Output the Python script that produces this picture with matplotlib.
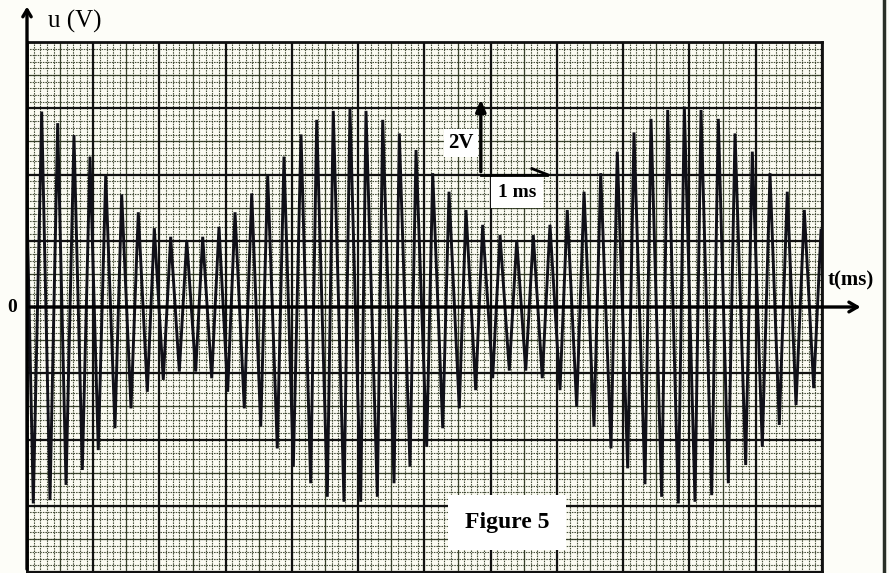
import numpy as np
import matplotlib
matplotlib.use("Agg")
import matplotlib.pyplot as plt

# extremes of the trace: time (ms), voltage (V)
t_ext = [0.000, 0.095, 0.222, 0.347, 0.463, 0.589, 0.709, 0.835, 0.951, 1.076,
         1.188, 1.328, 1.429, 1.570, 1.680, 1.816, 1.922, 2.057, 2.169, 2.299,
         2.411, 2.546, 2.652, 2.788, 2.898, 3.029, 3.140, 3.280, 3.392, 3.528,
         3.633, 3.778, 3.879, 4.020, 4.136, 4.282, 4.373, 4.533, 4.623, 4.785,
         4.875, 5.037, 5.117, 5.288, 5.369, 5.540, 5.620, 5.781, 5.872, 6.033,
         6.124, 6.275, 6.370, 6.525, 6.626, 6.773, 6.878, 7.029, 7.140, 7.280,
         7.392, 7.528, 7.642, 7.778, 7.894, 8.045, 8.155, 8.297, 8.408, 8.558,
         8.660, 8.815, 8.910, 9.067, 9.162, 9.328, 9.419, 9.580, 9.671, 9.831,
         9.922, 10.083, 10.174, 10.335, 10.435, 10.586, 10.687, 10.848, 10.948, 11.099,
         11.215, 11.355, 11.476, 11.608, 11.733, 11.875, 11.985]
u_ext = [3.00, -5.93, 5.90, -5.83, 5.55, -5.37, 5.19, -4.92, 4.54, -4.32,
         3.98, -3.66, 3.40, -3.06, 2.86, -2.56, 2.38, -2.20, 2.12, -1.95,
         2.02, -1.95, 2.12, -2.15, 2.42, -2.56, 2.86, -3.06, 3.43, -3.61,
         3.98, -4.27, 4.54, -4.82, 5.21, -5.32, 5.65, -5.73, 5.92, -5.88,
         6.00, -5.88, 5.92, -5.73, 5.65, -5.32, 5.24, -4.82, 4.74, -4.22,
         4.04, -3.66, 3.48, -3.06, 2.93, -2.51, 2.48, -2.15, 2.17, -1.92,
         2.02, -1.92, 2.17, -2.15, 2.48, -2.51, 2.93, -3.01, 3.48, -3.61,
         4.04, -4.27, 4.69, -4.87, 5.27, -5.35, 5.68, -5.73, 5.95, -5.93,
         6.05, -5.88, 5.95, -5.68, 5.68, -5.32, 5.24, -4.77, 4.69, -4.22,
         4.04, -3.56, 3.48, -2.96, 2.93, -2.45, 2.32]

serif = ['Liberation Serif', 'DejaVu Serif']
ink = '#101018'
grid_col = '#29331c'

fig = plt.figure(figsize=(8.89, 5.73), dpi=100)
fig.patch.set_facecolor('#fdfdf8')
ax = fig.add_axes([27/889, 1/573, 795/889, 530/573])
ax.set_facecolor('#fbfbf2')
ax.set_xlim(0, 12)
ax.set_ylim(-8, 8)
ax.set_xticks([])
ax.set_yticks([])

# graph paper
fine_x = np.arange(0, 12.001, 0.1)
fine_y = np.arange(-8, 8.001, 0.2)
ax.vlines(fine_x, -8, 8, colors=grid_col, lw=0.8, linestyles=(0, (1.4, 0.9)), alpha=0.85, zorder=1)
ax.hlines(fine_y, 0, 12, colors=grid_col, lw=0.8, linestyles=(0, (1.4, 0.9)), alpha=0.85, zorder=1)
ax.vlines(np.arange(0.5, 12, 1), -8, 8, colors=grid_col, lw=0.9, alpha=0.85, zorder=1)
ax.hlines(np.arange(-7, 8, 2), 0, 12, colors=grid_col, lw=0.9, alpha=0.85, zorder=1)
ax.vlines(np.arange(0, 12.001, 1), -8, 8, colors='#111111', lw=1.6, zorder=2)
ax.hlines(np.arange(-8, 8.001, 2), 0, 12, colors='#111111', lw=1.6, zorder=2)
for s in ax.spines.values():
    s.set_linewidth(2)
    s.set_color('#111111')

# signal
ax.plot(t_ext, u_ext, color=ink, lw=2.1, zorder=4, solid_joinstyle='miter')

# axes arrows
ax.annotate('', xy=(0, 1.072), xytext=(0, 0), xycoords='axes fraction',
            arrowprops=dict(arrowstyle='->,head_length=0.5,head_width=0.3', lw=2.4, color='k'),
            annotation_clip=False, zorder=6)
ax.annotate('', xy=(1.052, 0.5), xytext=(0, 0.5), xycoords='axes fraction',
            arrowprops=dict(arrowstyle='->,head_length=0.6,head_width=0.35', lw=2.4, color='k'),
            annotation_clip=False, zorder=6)
fig.text(48/889, 1 - 21/573, 'u (V)', family=serif, fontsize=18, va='center', ha='left')
fig.text(828/889, 1 - 280/573, 't(ms)', family=serif, fontsize=15, fontweight='bold', va='center', ha='left')
fig.text(12/889, 1 - 307/573, '0', family=serif, fontsize=14, fontweight='bold', va='center', ha='center')

# scale arrows
ax.annotate('', xy=(6.85, 6.35), xytext=(6.85, 4.0),
            arrowprops=dict(arrowstyle='-|>,head_length=0.7,head_width=0.3', lw=2.4, color='k'), zorder=7)
ax.plot([6.85, 7.85], [4.0, 4.0], color='k', lw=2.0, zorder=7)
ax.plot([7.62, 7.85], [4.18, 4.0], color='k', lw=2.0, zorder=7)
ax.text(6.55, 4.95, '2V', family=serif, fontsize=15, fontweight='bold', ha='center', va='center',
        bbox=dict(facecolor='white', edgecolor='none', pad=3), zorder=8)
ax.text(7.40, 3.45, '1 ms', family=serif, fontsize=14, fontweight='bold', ha='center', va='center',
        bbox=dict(facecolor='white', edgecolor='none', pad=5), zorder=8)
ax.text(7.25, -6.5, 'Figure 5', family=serif, fontsize=17, fontweight='bold', ha='center', va='center',
        bbox=dict(facecolor='white', edgecolor='none', pad=12), zorder=8)

# page edge on the right of the scan
fig.add_artist(plt.Line2D([884/889, 884/889], [0, 1], color='#2a2f28', lw=2.5))

fig.savefig('out.png', dpi=100, facecolor=fig.get_facecolor())
